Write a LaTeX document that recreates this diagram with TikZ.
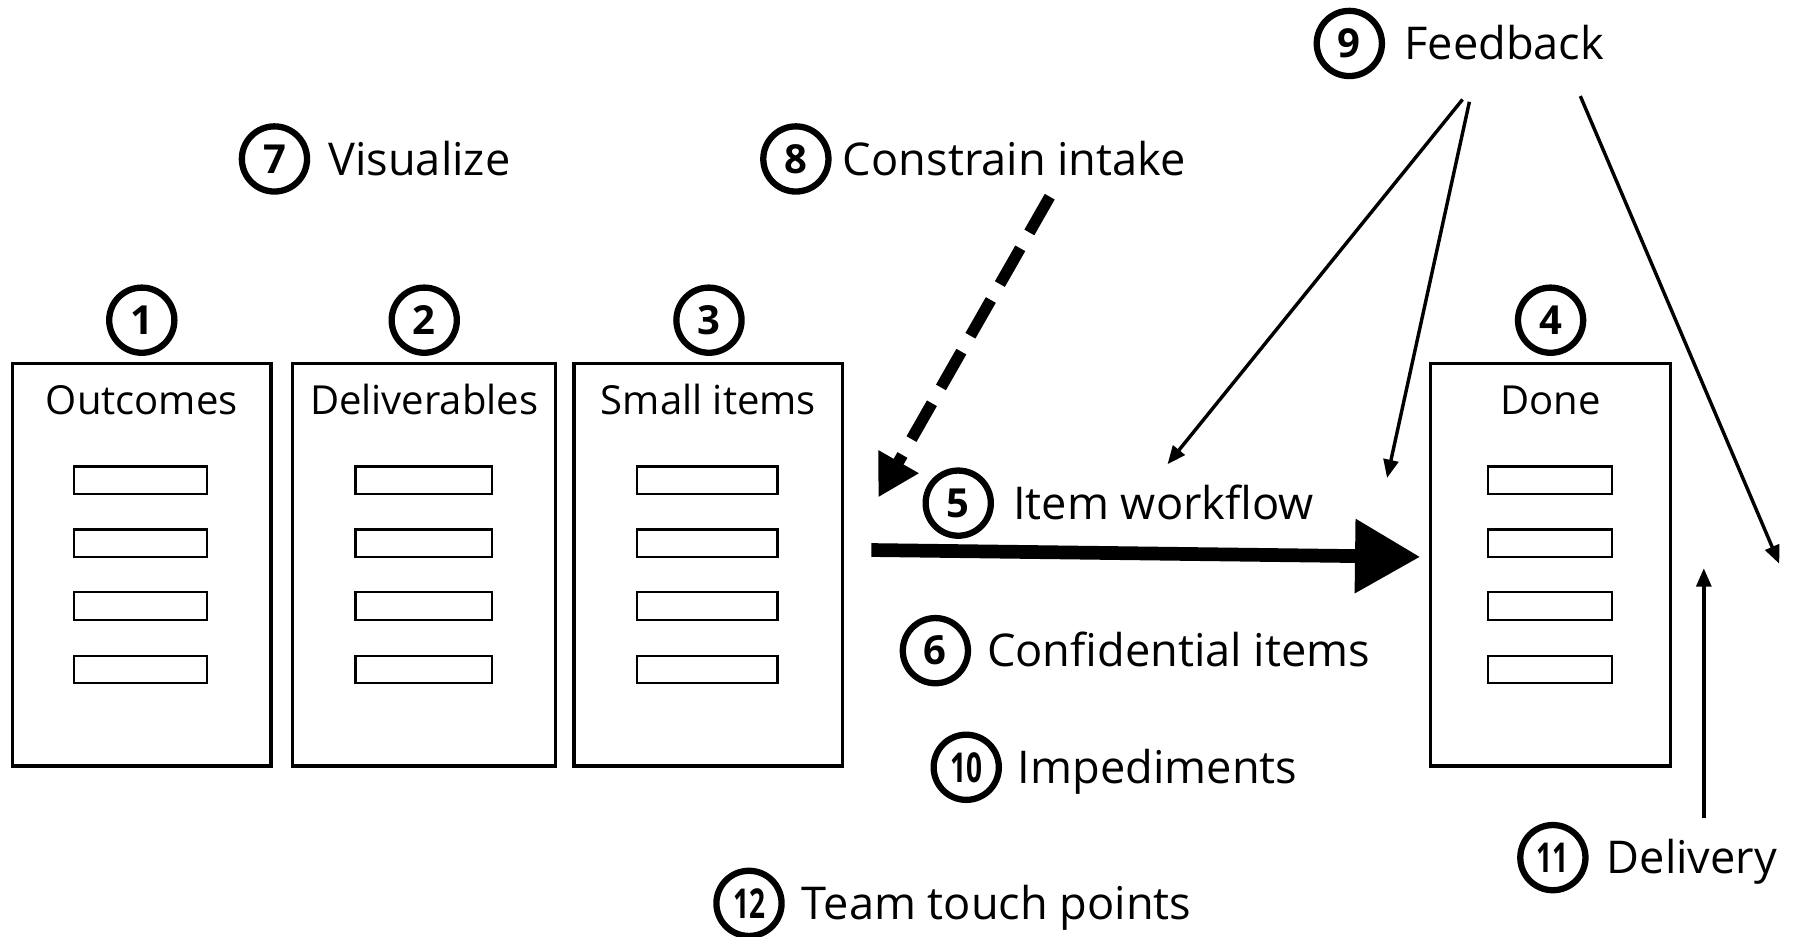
\documentclass[tikz,border=0pt]{standalone}
\usepackage{fontspec}
\setmainfont{Open Sans}
\usetikzlibrary{arrows.meta}
\begin{document}
\begin{tikzpicture}[x=1pt,y=-1pt,
  num/.style={circle,draw,line width=5.5pt,minimum size=57pt,inner sep=0pt,
    font=\fontsize{35}{35}\selectfont\bfseries},
  numtwo/.style={num,font=\fontsize{36}{36}\selectfont\bfseries},
  lbl/.style={anchor=west,inner sep=0pt,text height=28.4pt,text depth=0pt,
    font=\fontsize{39.5}{40}\selectfont},
  ttl/.style={inner sep=0pt,text height=25.2pt,text depth=0pt,
    font=\fontsize{35}{36}\selectfont},
  col/.style={draw,line width=3pt,minimum height=352pt,inner sep=0pt},
  card/.style={draw,line width=2pt,minimum height=24pt,inner sep=0pt},
  thin/.style={line width=3pt,-{Triangle[length=16pt,width=13pt]}},
]
\useasboundingbox[fill=white] (0,0) rectangle (1568,819);

% columns
\node[col,minimum width=226pt] (c1) at (124,494) {};
\node[col,minimum width=230pt] (c2) at (371,494) {};
\node[col,minimum width=235pt] (c3) at (619.5,494) {};
\node[col,minimum width=210pt] (c4) at (1356,494) {};

\node[ttl] (t1) at (124,350) {Outcomes};
\node[ttl] (t2) at (371,350) {Deliverables};
\node[ttl] (t3) at (619.5,350) {Small items};
\node[ttl] (t4) at (1356,350) {Done};

\foreach \i/\y in {1/420,2/475,3/530,4/585.5}{
  \node[card,minimum width=116pt] (a\i) at (123,\y) {};
  \node[card,minimum width=119pt] (b\i) at (370.5,\y) {};
  \node[card,minimum width=123pt] (d\i) at (618.5,\y) {};
  \node[card,minimum width=109pt] (e\i) at (1355.5,\y) {};
}

% numbered circles above columns
\node[num] (n1) at (124,280) {1};
\node[num] (n2) at (371,280) {2};
\node[num] (n3) at (620,280) {3};
\node[num] (n4) at (1356,280) {4};

% labels
\node[num] (n7) at (240,139) {7};
\node[lbl] (l7) at (287,139) {Visualize};
\node[num] (n8) at (696,139) {8};
\node[lbl] (l8) at (737,139) {Constrain intake};
\node[num] (n9) at (1180,38) {9};
\node[lbl] (l9) at (1228,38) {Feedback};
\node[num] (n5) at (838,440) {5};
\node[lbl] (l5) at (886,440) {Item workflow};
\node[num] (n6) at (818,569) {6};
\node[lbl] (l6) at (863,569) {Confidential items};
\node[numtwo] (n10) at (845,671) {\scalebox{0.68}[1]{10}};
\node[lbl] (l10) at (890,671) {Impediments};
\node[numtwo] (n12) at (655,790) {\scalebox{0.68}[1]{12}};
\node[lbl] (l12) at (701,790) {Team touch points};
\node[numtwo] (n11) at (1358,750) {\scalebox{0.68}[1]{11}};
\node[lbl] (l11) at (1405,750) {Delivery};

% connector end points
\coordinate (dashS) at (918,172);
\coordinate (dashE) at (768,435);
\coordinate (flowS) at (762,481);
\coordinate (flowE) at (1242,487);
\coordinate (fbS1) at (1279,87);
\coordinate (fbE1) at (1021,406);
\coordinate (fbS2) at (1285,89);
\coordinate (fbE2) at (1213,418);
\coordinate (fbS3) at (1382,84);
\coordinate (fbE3) at (1556,493);
\coordinate (dvS) at (1490,715);
\coordinate (dvE) at (1490,497);

% constrain intake (dashed)
\draw[line width=10pt,dash pattern=on 36pt off 16pt,
  -{Triangle[length=36pt,width=38pt]}] (dashS) -- (dashE);
% item workflow
\draw[line width=12pt,-{Triangle[length=57pt,width=62pt]}] (flowS) -- (flowE);
% feedback
\draw[thin] (fbS1) -- (fbE1);
\draw[thin] (fbS2) -- (fbE2);
\draw[thin] (fbS3) -- (fbE3);
% delivery
\draw[thin] (dvS) -- (dvE);
\end{tikzpicture}
\end{document}
